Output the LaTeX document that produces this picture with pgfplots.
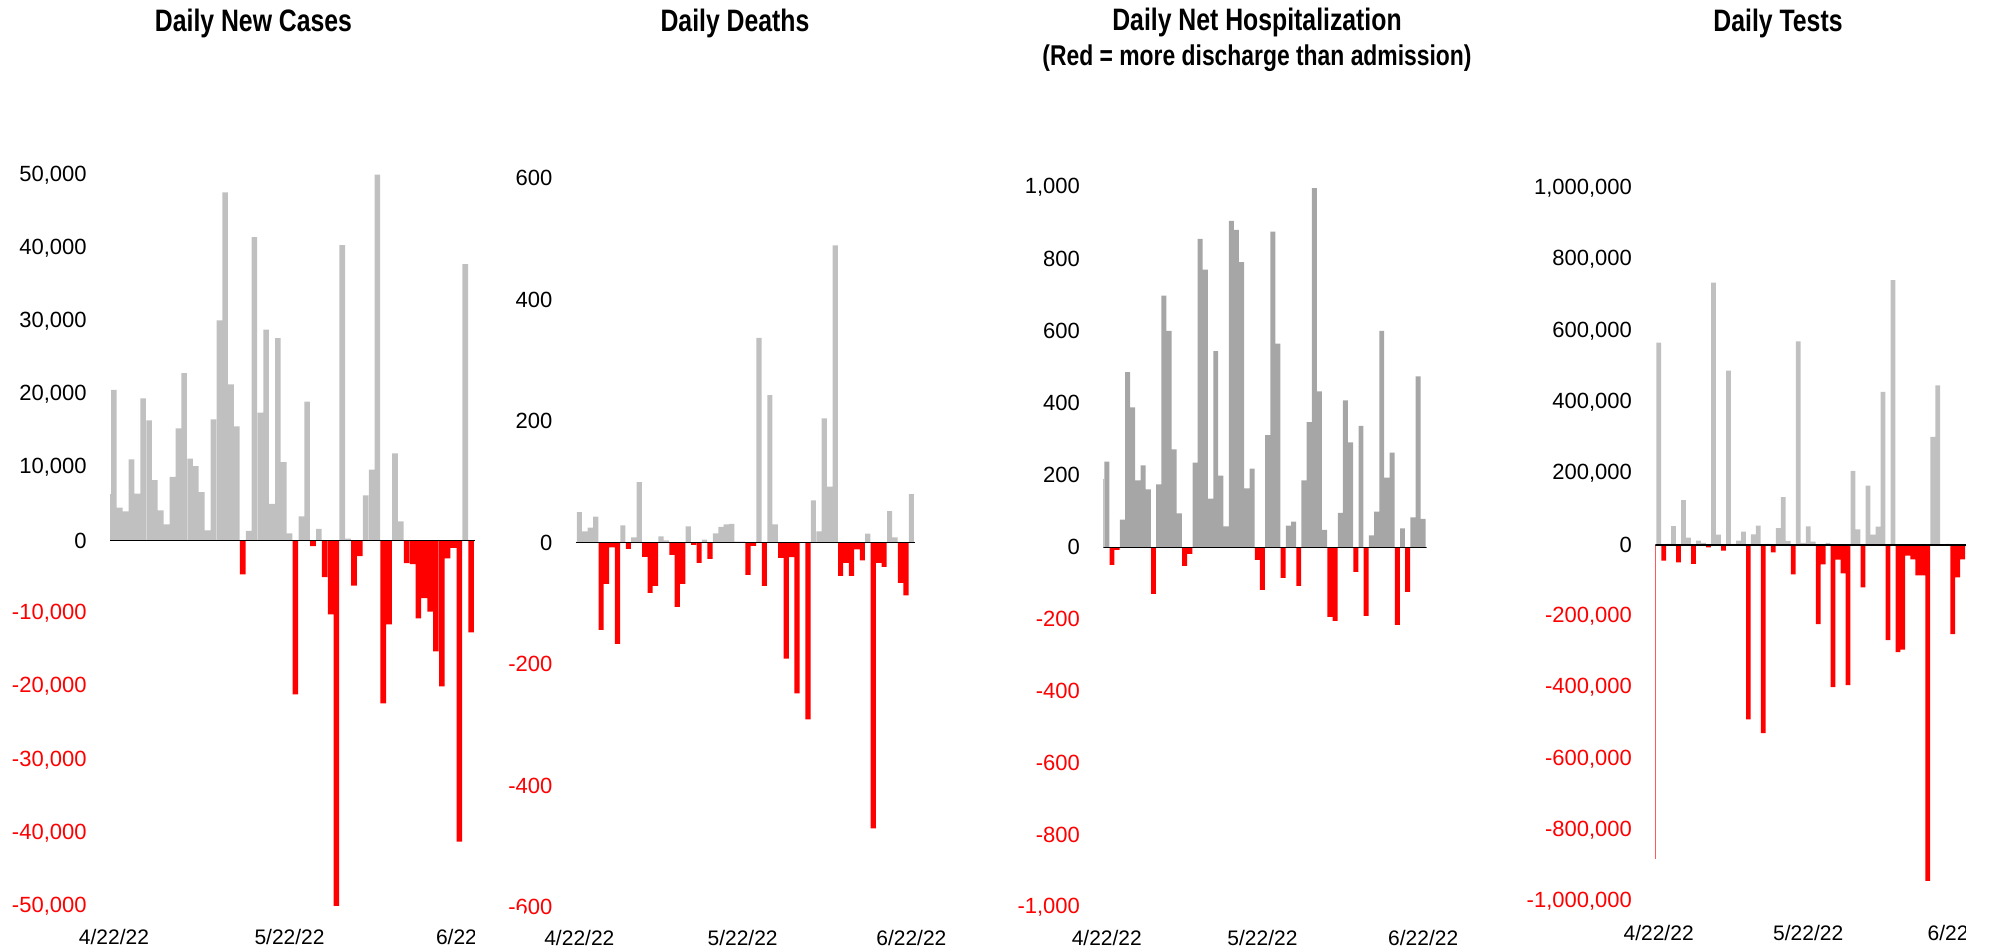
\documentclass[border=0pt]{standalone}
\usepackage{fontspec}
\setmainfont{Liberation Sans}
\newfontfamily\titlefont[FakeStretch=0.8]{Liberation Sans}
\usepackage{pgfplots}
\pgfplotsset{compat=1.18}

\definecolor{lgray}{HTML}{C0C0C0}
\definecolor{dgray}{HTML}{A6A6A6}
\definecolor{bred}{HTML}{FF0000}

\pgfplotsset{
  panel/.style={
    scale only axis, anchor=south west,
    xmin=-0.67, xmax=61.67,
    axis line style={draw=none},
    tick style={draw=none},
    major tick length=0pt,
    scaled y ticks=false,
    xtick={0,30,61}, xticklabels={4/22/22,5/22/22,6/22/22},
    xticklabel style={font=\fontsize{10.5}{12}\selectfont, anchor=north, inner sep=0pt, yshift=-11.5pt},
    yticklabel style={font=\fontsize{11}{13}\selectfont, anchor=east, inner sep=0pt, xshift=-11.5pt},
  },
  gbar/.style={ybar, bar width=0.95, bar shift=0pt, draw=none, fill=#1},
  rbar/.style={ybar, bar width=0.95, bar shift=0pt, draw=none, fill=bred},
  sliver/.style={ybar, bar width=1.1, bar shift=0pt, draw=none, fill=#1},
}
\tikzset{ttl/.style={anchor=base, font=\titlefont\bfseries\fontsize{15.5}{17}\selectfont}}

\begin{document}
\begin{tikzpicture}

% Daily New Cases
\begin{axis}[panel, at={(55pt,23pt)}, width=182.5pt, height=365.5pt,
    ymin=-50000, ymax=50000,
    ytick={-50000,-40000,-30000,-20000,-10000,0,10000,20000,30000,40000,50000},
    yticklabels={\textcolor{bred}{-50,000},\textcolor{bred}{-40,000},\textcolor{bred}{-30,000},\textcolor{bred}{-20,000},\textcolor{bred}{-10,000},0,{10,000},{20,000},{30,000},{40,000},{50,000}}]
\addplot[sliver=lgray] coordinates {(-1,6300)};
\addplot[gbar=lgray] coordinates {(0,20590)(1,4480)(2,3970)(3,11100)(4,6400)(5,19450)(6,16440)(7,8260)(8,4110)(9,2190)(10,8720)(11,15340)(12,22880)(13,11190)(14,10180)(15,6620)(16,1370)(17,16580)(18,30100)(19,47630)(20,21370)(21,15620)(23,1330)(24,41510)(25,17490)(26,28860)(27,5020)(28,27670)(29,10730)(30,960)(32,3290)(33,19000)(35,1600)(39,40410)(40,270)(43,6170)(44,9680)(45,50050)(48,11920)(49,2600)(60,37810)};
\addplot[rbar] coordinates {(22,-4620)(31,-21050)(34,-780)(36,-5020)(37,-10090)(38,-50000)(41,-6160)(42,-2150)(46,-22290)(47,-11470)(50,-3100)(51,-3220)(52,-10640)(53,-7900)(54,-9730)(55,-15160)(56,-19960)(57,-2450)(58,-1000)(59,-41190)(61,-12560)};
\draw[black, line width=0.7pt] (axis cs:-0.67,0) -- (axis cs:61.67,0);
\end{axis}

% Daily Deaths
\begin{axis}[panel, at={(287.85pt,22.35pt)}, width=169.65pt, height=364.65pt,
    ymin=-600, ymax=600,
    ytick={-600,-400,-200,0,200,400,600},
    yticklabels={\textcolor{bred}{-600},\textcolor{bred}{-400},\textcolor{bred}{-200},0,200,400,600}]
\addplot[gbar=lgray] coordinates {(0,50)(1,18.6)(2,24.7)(3,43)(8,28.5)(10,8.8)(11,99.7)(15,10.4)(16,3.8)(20,26.8)(23,4.9)(25,15.3)(26,25.8)(27,30)(28,31)(29,1.6)(30,1.6)(33,337)(35,242.8)(36,30)(43,69.6)(44,18.6)(45,204.4)(46,92)(47,489)(53,14.8)(57,52)(58,8.8)(61,80)};
\addplot[rbar] coordinates {(4,-143.6)(5,-68)(6,-7.7)(7,-166.6)(9,-10.4)(12,-23.6)(13,-82.7)(14,-71.2)(17,-20.3)(18,-105.8)(19,-68)(21,-3.8)(22,-33.4)(24,-26.9)(31,-53.2)(32,-5.5)(34,-71.2)(37,-25.2)(38,-191)(39,-24)(40,-248)(42,-291)(48,-54.8)(49,-33.4)(50,-54.8)(51,-11)(52,-29)(54,-470)(55,-33.4)(56,-40)(59,-66.3)(60,-86.6)};
\draw[black, line width=0.7pt] (axis cs:-0.67,0) -- (axis cs:61.67,0);
\end{axis}

% Daily Net Hospitalization
\begin{axis}[panel, at={(551.65pt,22.35pt)}, width=161.7pt, height=360pt,
    ymin=-1000, ymax=1000,
    ytick={-1000,-800,-600,-400,-200,0,200,400,600,800,1000},
    yticklabels={\textcolor{bred}{-1,000},\textcolor{bred}{-800},\textcolor{bred}{-600},\textcolor{bred}{-400},\textcolor{bred}{-200},0,200,400,600,800,{1,000}}]
\addplot[sliver=dgray] coordinates {(-1,190)};
\addplot[gbar=dgray] coordinates {(0,237.7)(3,76.8)(4,486.6)(5,388.5)(6,186)(7,227.6)(8,161)(10,174.8)(11,699.3)(12,601)(13,272)(14,94.4)(17,235)(18,856.6)(19,771.5)(20,135)(21,544.8)(22,198.9)(23,58.3)(24,906.5)(25,881.5)(26,791.8)(27,163.7)(28,218.3)(31,311.7)(32,876.9)(33,566)(35,60)(36,71.2)(38,186)(39,347.8)(40,998)(41,432.9)(42,48.1)(45,95.3)(46,408)(47,291.4)(49,337.6)(51,33.3)(52,99)(53,601)(54,193.3)(55,262.7)(57,52.7)(59,83.3)(60,474.5)(61,78.6)};
\addplot[rbar] coordinates {(1,-49)(2,-7.4)(9,-129.5)(15,-51.8)(16,-18.5)(29,-35.2)(30,-118.4)(34,-85)(37,-107.3)(43,-193.3)(44,-204.4)(48,-68.5)(50,-190.6)(56,-215.5)(58,-124)};
\draw[black, line width=0.7pt] (axis cs:-0.67,0) -- (axis cs:61.67,0);
\end{axis}

% Daily Tests
\begin{axis}[panel, at={(827.65pt,25.15pt)}, width=155.35pt, height=356.7pt,
    ymin=-1000000, ymax=1000000,
    ytick={-1000000,-800000,-600000,-400000,-200000,0,200000,400000,600000,800000,1000000},
    yticklabels={\textcolor{bred}{-1,000,000},\textcolor{bred}{-800,000},\textcolor{bred}{-600,000},\textcolor{bred}{-400,000},\textcolor{bred}{-200,000},0,{200,000},{400,000},{600,000},{800,000},{1,000,000}}]
\addplot[sliver=bred] coordinates {(-1,-878900)};
\addplot[gbar=lgray] coordinates {(0,567300)(2,2800)(3,53200)(5,126000)(6,20500)(8,12100)(9,5600)(11,735200)(12,28900)(14,488900)(15,2800)(16,12100)(17,37300)(19,29900)(20,54100)(22,2800)(24,47600)(25,134400)(26,11200)(28,571000)(29,5600)(30,52200)(31,9300)(34,5600)(39,208000)(40,43900)(42,166100)(43,28900)(44,51300)(45,429200)(47,742700)(55,303200)(56,447800)(58,2800)};
\addplot[rbar] coordinates {(1,-43900)(4,-48500)(7,-53200)(10,-6500)(13,-15900)(18,-488900)(21,-527100)(23,-20500)(27,-82100)(32,-222100)(33,-54100)(35,-398400)(36,-41100)(37,-79300)(38,-392800)(41,-118500)(46,-266800)(48,-300400)(49,-293000)(50,-29900)(51,-40100)(52,-84900)(53,-84900)(54,-941400)(59,-250000)(60,-90500)(61,-40100)};
\draw[black, line width=0.7pt] (axis cs:-0.67,0) -- (axis cs:61.67,0);
\end{axis}

% titles
\node[ttl] at (126.75pt,460pt) {Daily New Cases};
\node[ttl] at (367.5pt,460pt) {Daily Deaths};
\node[ttl] at (628.5pt,460.5pt) {Daily Net Hospitalization};
\node[anchor=base, font=\titlefont\bfseries\fontsize{14.3}{16}\selectfont] at (628.5pt,443pt) {(Red = more discharge than admission)};
\node[ttl] at (889pt,460pt) {Daily Tests};

% the last date label is cut off at the plot edge
\fill[white] (237.5pt,0pt) rectangle (262pt,21pt);
\fill[white] (728.4pt,0pt) rectangle (760pt,21pt);
\fill[white] (983pt,0pt) rectangle (1000pt,21pt);

\pgfresetboundingbox
\path[use as bounding box] (0pt,0pt) rectangle (995pt,476pt);
\end{tikzpicture}
\end{document}
